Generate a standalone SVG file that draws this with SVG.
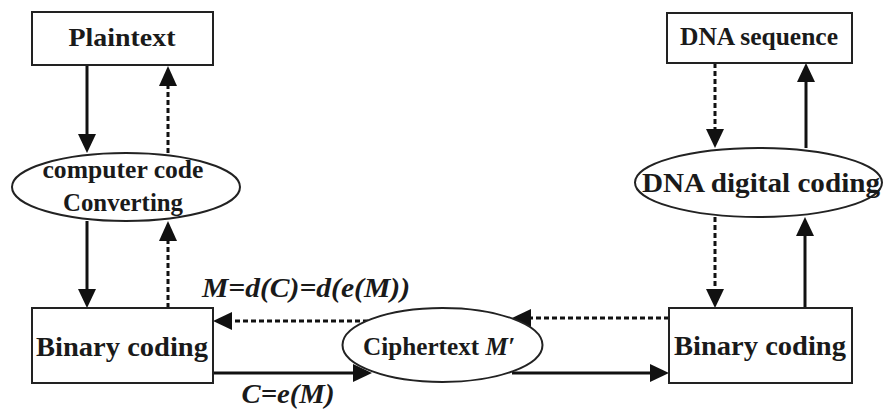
<svg xmlns="http://www.w3.org/2000/svg" width="884" height="415" viewBox="0 0 884 415">
<style>
.box{fill:#fff;stroke:#222;stroke-width:2}
.ell{fill:#fff;stroke:#222;stroke-width:2}
.t{font-family:"Times New Roman","Liberation Serif",serif;font-weight:bold;fill:#1a1a1a;text-anchor:middle}
.it{font-style:italic}
.solid{stroke:#111;stroke-width:3;fill:none}
.dash{stroke:#111;stroke-width:3;fill:none;stroke-dasharray:5 3}
.head{fill:#111;stroke:none}
</style>
<rect width="884" height="415" fill="#fff"/>
<g id="connectors">
<line class="solid" x1="87" y1="65" x2="87" y2="136"/>
<polygon class="head" points="78,134 96,134 87,153"/>
<line class="dash" x1="168" y1="153" x2="168" y2="84"/>
<polygon class="head" points="159,86 177,86 168,66"/>
<line class="solid" x1="87" y1="221" x2="87" y2="291"/>
<polygon class="head" points="78,289 96,289 87,308"/>
<line class="dash" x1="168" y1="308" x2="168" y2="240"/>
<polygon class="head" points="159,241 177,241 168,221"/>
<line class="dash" x1="715" y1="63" x2="715" y2="131"/>
<polygon class="head" points="706,129 724,129 715,148"/>
<line class="solid" x1="806" y1="148" x2="806" y2="80"/>
<polygon class="head" points="797,82 815,82 806,63"/>
<line class="dash" x1="715" y1="217" x2="715" y2="291"/>
<polygon class="head" points="706,289 724,289 715,308"/>
<line class="solid" x1="805" y1="308" x2="805" y2="234"/>
<polygon class="head" points="796,236 814,236 805,217"/>
<line class="dash" x1="669" y1="318" x2="529" y2="318"/>
<polygon class="head" points="531,309 531,327 512,318"/>
<line class="dash" x1="368" y1="321" x2="230" y2="321"/>
<polygon class="head" points="232,312 232,330 213,321"/>
<line class="solid" x1="213" y1="373" x2="355" y2="373"/>
<polygon class="head" points="353,364 353,382 372,373"/>
<line class="solid" x1="512" y1="373" x2="652" y2="373"/>
<polygon class="head" points="650,364 650,382 669,373"/>
</g>
<g id="plaintext">
<rect class="box" x="32" y="12" width="181" height="53"/>
<text class="t" x="122" y="46" font-size="26" textLength="107" lengthAdjust="spacingAndGlyphs">Plaintext</text>
</g>
<g id="converting">
<ellipse class="ell" cx="126" cy="187" rx="114" ry="34"/>
<text class="t" x="123" y="178" font-size="25" textLength="161" lengthAdjust="spacingAndGlyphs">computer code</text>
<text class="t" x="123" y="211" font-size="25" textLength="120" lengthAdjust="spacingAndGlyphs">Converting</text>
</g>
<g id="binary-left">
<rect class="box" x="32" y="308" width="181" height="75"/>
<text class="t" x="122" y="356" font-size="28" textLength="172" lengthAdjust="spacingAndGlyphs">Binary coding</text>
</g>
<g id="ciphertext">
<ellipse class="ell" cx="442.5" cy="345" rx="100" ry="37"/>
<text class="t" x="439" y="355" font-size="25" textLength="152" lengthAdjust="spacingAndGlyphs">Ciphertext <tspan class="it">M′</tspan></text>
</g>
<g id="binary-right">
<rect class="box" x="669" y="308" width="183" height="75"/>
<text class="t" x="760" y="355" font-size="28" textLength="172" lengthAdjust="spacingAndGlyphs">Binary coding</text>
</g>
<g id="dna-sequence">
<rect class="box" x="667" y="13" width="185" height="50"/>
<text class="t" x="759" y="45" font-size="25" textLength="158" lengthAdjust="spacingAndGlyphs">DNA sequence</text>
</g>
<g id="dna-digital">
<ellipse class="ell" cx="758.5" cy="182.5" rx="123.5" ry="34.5"/>
<text class="t" x="761" y="192" font-size="28" textLength="238" lengthAdjust="spacingAndGlyphs">DNA digital coding</text>
</g>
<g id="labels">
<text class="t it" x="306" y="297" font-size="27" textLength="208" lengthAdjust="spacingAndGlyphs">M=d(C)=d(e(M))</text>
<text class="t it" x="288" y="403" font-size="27" textLength="93" lengthAdjust="spacingAndGlyphs">C=e(M)</text>
</g>
</svg>
